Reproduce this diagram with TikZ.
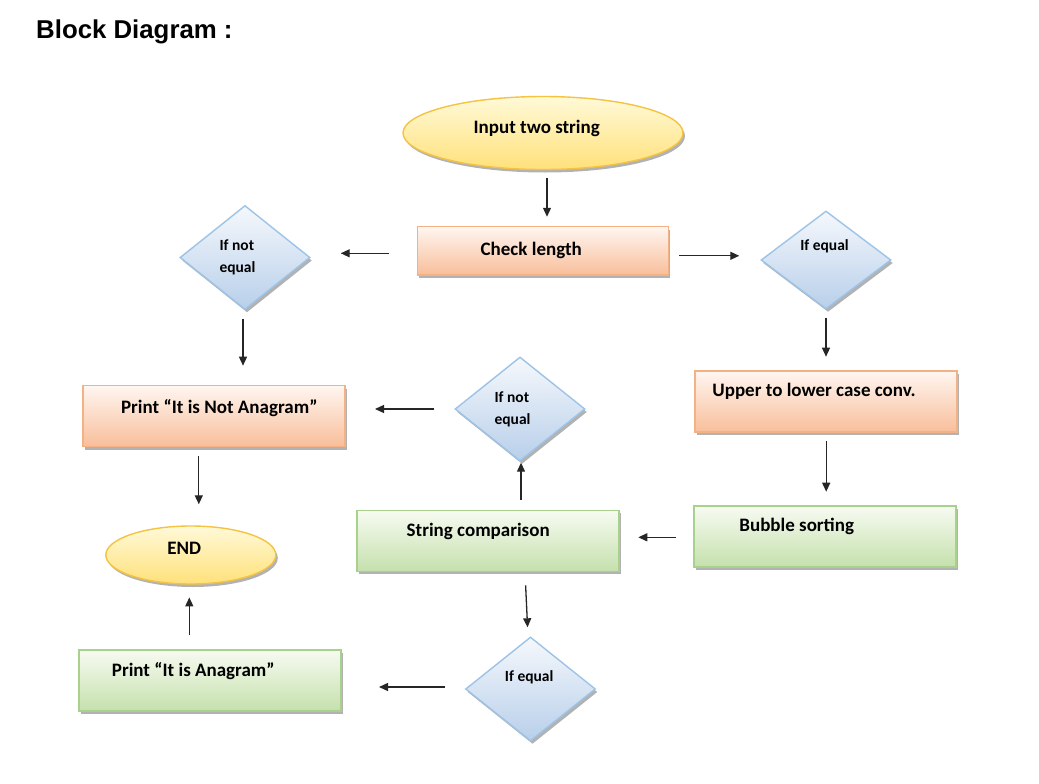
\documentclass[tikz,border=0pt]{standalone}
\usepackage{fontspec}
\setmainfont{Carlito}
\newfontfamily\titlefont{Liberation Sans}
\usetikzlibrary{shapes.geometric,shadows,arrows.meta}

\definecolor{ylwtop}{HTML}{FFF9D8}
\definecolor{ylwbot}{HTML}{FFE17A}
\definecolor{ylwline}{HTML}{F5C342}
\definecolor{orgtop}{HTML}{FFF6F1}
\definecolor{orgbot}{HTML}{F8BE9A}
\definecolor{orgline}{HTML}{F4B183}
\definecolor{grntop}{HTML}{F7FBF2}
\definecolor{grnbot}{HTML}{C5E0AC}
\definecolor{grnline}{HTML}{A9D18E}
\definecolor{blutop}{HTML}{F5F8FC}
\definecolor{blubot}{HTML}{B8CFEA}
\definecolor{bluline}{HTML}{9DC3E6}

\tikzset{
  shade/.style={drop shadow={shadow xshift=2pt,shadow yshift=-3pt,fill=black,opacity=.3}},
  terminal/.style={ellipse, draw=ylwline, line width=1.4pt, top color=ylwtop, bottom color=ylwbot, inner sep=0pt, shade},
  orangebox/.style={rectangle, draw=orgline, line width=1.6pt, top color=orgtop, bottom color=orgbot, minimum width=262pt, minimum height=61pt, inner sep=0pt, shade},
  greenbox/.style={rectangle, draw=grnline, line width=1.6pt, top color=grntop, bottom color=grnbot, minimum width=262pt, minimum height=61pt, inner sep=0pt, shade},
  decision/.style={diamond, draw=bluline, line width=1.4pt, top color=blutop, bottom color=blubot, minimum width=130pt, minimum height=104pt, inner sep=0pt, shade},
  lbl/.style={font=\bfseries\fontsize{19}{23}\selectfont, text height=13pt, text depth=3.5pt, inner sep=0pt},
  dlbl/.style={font=\bfseries\fontsize{15.5}{21.7}\selectfont, align=left, inner sep=0pt},
  arr/.style={-{Triangle[length=9pt,width=8pt]}, line width=1.3pt, draw=black!85},
}

\begin{document}
\begin{tikzpicture}[x=1pt,y=-1pt]
  \useasboundingbox (0,0) rectangle (1039,784);

  % title
  \node[anchor=base west, inner sep=0pt, font=\titlefont\bfseries\fontsize{25.8}{30}\selectfont] (title) at (36,39) {Block Diagram :};

  % main column
  \node[terminal, minimum width=280pt, minimum height=73pt, label={[lbl,xshift=-6.3pt,yshift=4pt]center:Input two string}] (input) at (543,133) {};
  \node[orangebox, minimum width=251pt, minimum height=48.5pt, label={[lbl,xshift=-11.5pt]center:Check length}] (check) at (542.8,250.8) {};

  % length test
  \node[decision, label={[dlbl,xshift=-7.5pt]center:If not\\equal}] (lne) at (245,257.5) {};
  \node[decision, minimum height=98pt, label={[dlbl,xshift=-1.5pt,yshift=14.2pt]center:If equal}] (rne) at (826,260) {};

  % right branch
  \node[orangebox, label={[lbl,xshift=-12.2pt,yshift=10pt]center:Upper to lower case conv.}] (upper) at (826.2,401.7) {};
  \node[greenbox, label={[lbl,xshift=-28.3pt,yshift=9.6pt]center:Bubble sorting}] (bubble) at (825,536.3) {};
  \node[greenbox, label={[lbl,xshift=-9.6pt,yshift=9.1pt]center:String comparison}] (strcmp) at (487.8,540.8) {};

  % comparison tests
  \node[decision, label={[dlbl,xshift=-7.5pt]center:If not\\equal}] (mne) at (520,409) {};
  \node[decision, label={[dlbl,xshift=-1.3pt,yshift=11.8pt]center:If equal}] (bne) at (530.5,689) {};

  % results
  \node[orangebox, label={[lbl,xshift=5.1pt,yshift=7.7pt]center:Print “It is Not Anagram”}] (pnot) at (214.2,416) {};
  \node[greenbox, label={[lbl,xshift=-16.9pt,yshift=8.6pt]center:Print “It is Anagram”}] (pana) at (210.2,680.3) {};
  \node[terminal, minimum width=170pt, minimum height=58pt, label={[lbl,xshift=-6.5pt,yshift=5.7pt]center:END}] (endn) at (190.8,555) {};

  % connectors
  \draw[arr, shorten <=7.5pt, shorten >=9pt] ([xshift=4pt]input.south) -- ([xshift=4pt]input.south |- check.north);
  \draw[arr, shorten <=28pt, shorten >=30pt] ([yshift=-2.5pt]check.west) -- ([yshift=-2.5pt]check.west -| lne.east);
  \draw[arr, shorten <=10pt, shorten >=21pt] ([yshift=-5pt]check.east) -- ([yshift=-5pt]check.east -| rne.west);
  \draw[arr, shorten <=8.5pt, shorten >=19pt] ([xshift=-2pt]lne.south) -- ([xshift=-2pt]lne.south |- pnot.north);
  \draw[arr, shorten <=8pt, shorten >=13.7pt] (rne.south) -- (rne.south |- upper.north);
  \draw[arr, shorten <=8.3pt, shorten >=13.3pt] (upper.south) -- (upper.south |- bubble.north);
  \draw[arr, shorten <=17pt, shorten >=18.7pt] ([yshift=-1pt]bubble.west) -- ([yshift=-1pt]bubble.west -| strcmp.east);
  \draw[arr, shorten <=10pt, shorten >=1pt] ([xshift=1pt]mne.south |- strcmp.north) -- ([xshift=1pt]mne.south);
  \draw[arr, shorten <=20pt, shorten >=29pt] (mne.west) -- (mne.west -| pnot.east);
  \draw[arr, shorten <=13.3pt, shorten >=9pt] ([xshift=-5.5pt]bne.north |- strcmp.south) -- ([xshift=-2.5pt]bne.north);
  \draw[arr, shorten <=20pt, shorten >=37pt] ([yshift=2pt]bne.west) -- ([yshift=2pt]bne.west -| pana.east);
  \draw[arr, shorten <=14pt, shorten >=12.7pt] ([xshift=-1.5pt]endn.south |- pana.north) -- ([xshift=-1.5pt]endn.south);
  \draw[arr, shorten <=9pt, shorten >=21pt] ([xshift=8pt]endn.north |- pnot.south) -- ([xshift=8pt]endn.north);
\end{tikzpicture}
\end{document}
